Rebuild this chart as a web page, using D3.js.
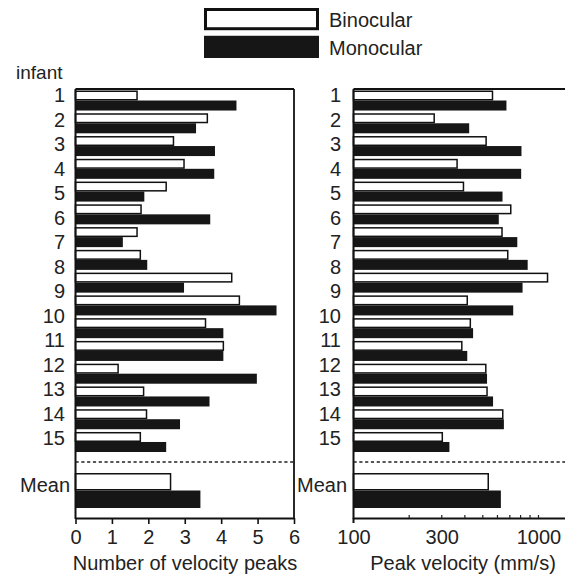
<!DOCTYPE html>
<html><head><meta charset="utf-8">
<script src="https://cdn.jsdelivr.net/npm/d3@7"></script>
<style>
html,body{margin:0;padding:0;background:#fff;}
svg{display:block;font-family:"Liberation Sans",Arial,Helvetica,sans-serif;}
</style></head>
<body><svg id="c" width="565" height="576"></svg>
<script>
// ---- data ----
const infantLabels = ["1","2","3","4","5","6","7","8","9","10","11","12","13","14","15"];
const barRows = ["r1","r2","r3","r4","r5","r6","r7","r8","r9","r10","r11","r12","r13","r14","r15","r16"];
const seriesNames = ["Binocular","Monocular"];
const peaksBinocular = [1.69,3.62,2.69,2.98,2.49,1.80,1.69,1.78,4.29,4.50,3.57,4.06,1.17,1.87,1.95,1.78];
const peaksMonocular = [4.42,3.31,3.83,3.81,1.89,3.70,1.30,1.97,2.98,5.52,4.06,4.06,4.98,3.68,2.87,2.49];
const velBinocular = [564,273,521,363,393,708,635,682,1119,412,428,385,519,527,641,302];
const velMonocular = [671,422,809,806,639,610,768,874,820,730,443,412,527,568,650,330];
const meanPeaks = [2.61,3.43];
const meanVel = [535,626];
const peakTicks = [0,1,2,3,4,5,6];
const velTicks = [100,300,1000];
const velMinorTicks = [200,300,400,500,600,700,800,900,1000];

const svg = d3.select("#c");
const FS = 20;
const frameTop = 89, frameBottom = 518, dashY = 462;

const yRow = d3.scaleBand().domain(barRows).range([90.5, 452]).paddingInner(0.12);
const ySer = d3.scaleBand().domain(seriesNames).range([0, yRow.bandwidth()]);
const yLab = d3.scalePoint().domain(infantLabels).range([95, 438]);
const yMean = d3.scaleBand().domain(seriesNames).range([473, 508]);

function panel(x, x0, xEnd, bin, mon, mean, labelRight, meanRight, drawRightBorder) {
  const g = svg.append("g");
  const rows = barRows.map((r,i)=>({r, b:bin[i], m:mon[i]}));
  rows.forEach(d=>{
    g.append("rect").attr("x", x(x0)).attr("y", yRow(d.r)+ySer("Binocular")+0.75)
      .attr("width", x(d.b)-x(x0)).attr("height", ySer.bandwidth()-1.5)
      .attr("fill","#fff").attr("stroke","#111").attr("stroke-width",1.5);
    g.append("rect").attr("x", x(x0)).attr("y", yRow(d.r)+ySer("Monocular"))
      .attr("width", x(d.m)-x(x0)).attr("height", ySer.bandwidth())
      .attr("fill","#161616");
  });
  // mean
  g.append("rect").attr("x", x(x0)).attr("y", yMean("Binocular")+0.75)
    .attr("width", x(mean[0])-x(x0)).attr("height", yMean.bandwidth()-1.5)
    .attr("fill","#fff").attr("stroke","#111").attr("stroke-width",1.5);
  g.append("rect").attr("x", x(x0)).attr("y", yMean("Monocular"))
    .attr("width", x(mean[1])-x(x0)).attr("height", yMean.bandwidth())
    .attr("fill","#161616");
  // frame
  const xl = x(x0), xr = Math.min(x(xEnd), 566);
  g.append("line").attr("x1",xl).attr("x2",xl).attr("y1",frameTop).attr("y2",frameBottom+1)
    .attr("stroke","#111").attr("stroke-width",2);
  g.append("line").attr("x1",xl).attr("x2",xr).attr("y1",frameTop).attr("y2",frameTop)
    .attr("stroke","#111").attr("stroke-width",1.8);
  if (drawRightBorder) g.append("line").attr("x1",xr).attr("x2",xr).attr("y1",frameTop).attr("y2",frameBottom)
    .attr("stroke","#111").attr("stroke-width",1.8);
  g.append("line").attr("x1",xl).attr("x2",xr).attr("y1",dashY).attr("y2",dashY)
    .attr("stroke","#222").attr("stroke-width",1.6).attr("stroke-dasharray","3.2,2.6");
  // labels
  g.selectAll("text.inf").data(infantLabels).join("text").attr("class","inf")
    .attr("x", labelRight).attr("y", d=>yLab(d)).attr("dy","0.36em")
    .attr("text-anchor","end").attr("font-size",FS).attr("fill","#222").text(d=>d);
  g.append("text").attr("x", meanRight).attr("y", 485).attr("dy","0.36em")
    .attr("text-anchor","end").attr("font-size",FS).attr("fill","#222").text("Mean");
  return g;
}

// left panel
const xP = d3.scaleLinear().domain([0,6]).range([75.5, 294]);
panel(xP, 0, 6, peaksBinocular, peaksMonocular, meanPeaks, 65, 70, true);
const axL = d3.axisBottom(xP).tickValues(peakTicks).tickSize(6).tickSizeOuter(0).tickPadding(6).tickFormat(d3.format("d"));
const aL = svg.append("g").attr("transform",`translate(0,${frameBottom})`).call(axL);
aL.select(".domain").attr("stroke","#111").attr("stroke-width",2);
aL.selectAll(".tick line").attr("stroke","#111").attr("stroke-width",1.6);
aL.selectAll(".tick text").attr("font-size",FS).attr("fill","#222").attr("font-family","Liberation Sans, Arial, sans-serif");
svg.append("text").attr("x",185).attr("y",570).attr("text-anchor","middle").attr("font-size",FS).attr("fill","#222").text("Number of velocity peaks");

// right panel
const xV = d3.scaleLog().domain([100,1500]).range([353.5, 353.5+185*Math.log10(15)]);
panel(xV, 100, 1500, velBinocular, velMonocular, meanVel, 341, 347, false);
const axR = d3.axisBottom(xV).tickValues(velTicks).tickSize(0).tickPadding(12).tickFormat(d3.format("d"));
const aR = svg.append("g").attr("transform",`translate(0,${frameBottom})`).call(axR);
aR.select(".domain").attr("stroke","#111").attr("stroke-width",2);
aR.selectAll(".tick text").attr("font-size",FS).attr("fill","#222").attr("font-family","Liberation Sans, Arial, sans-serif");
svg.append("g").selectAll("line").data(velMinorTicks).join("line")
  .attr("x1",d=>xV(d)).attr("x2",d=>xV(d)).attr("y1",frameBottom).attr("y2",frameBottom-3)
  .attr("stroke","#222").attr("stroke-width",1.2);
svg.append("line").attr("x1",xV(100)).attr("x2",xV(100)).attr("y1",frameBottom).attr("y2",frameBottom+5)
  .attr("stroke","#111").attr("stroke-width",2);
svg.append("text").attr("x",463).attr("y",570).attr("text-anchor","middle").attr("font-size",FS).attr("fill","#222").text("Peak velocity (mm/s)");

// infant header
svg.append("text").attr("x",16).attr("y",72).attr("dy","0.36em").attr("font-size",FS-1).attr("fill","#222").text("infant");

// legend
const legY = d3.scaleBand().domain(seriesNames).range([8, 58]).paddingInner(0.2);
svg.append("rect").attr("x",205.5).attr("y",legY("Binocular")+1.5).attr("width",112).attr("height",legY.bandwidth()-3)
  .attr("fill","#fff").attr("stroke","#111").attr("stroke-width",3);
svg.append("rect").attr("x",204).attr("y",legY("Monocular")).attr("width",115).attr("height",legY.bandwidth())
  .attr("fill","#161616");
seriesNames.forEach(s=>{
  svg.append("text").attr("x",329).attr("y",legY(s)+legY.bandwidth()/2+1).attr("dy","0.36em")
    .attr("font-size",FS).attr("fill","#222").text(s);
});
</script></body></html>
